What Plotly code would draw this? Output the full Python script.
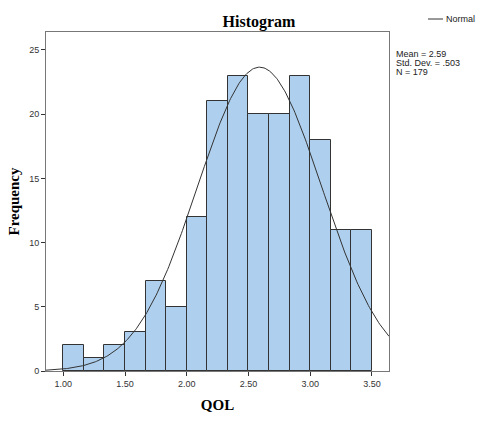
import numpy as np
import plotly.graph_objects as go

# Data
bin_starts = [1.0 + i / 6 for i in range(15)]
counts = [2, 1, 2, 3, 7, 5, 12, 21, 23, 20, 20, 23, 18, 11, 11]
mean, sd, n = 2.59, 0.503, 179
bin_width = 1 / 6
x_ticks = [1.0, 1.5, 2.0, 2.5, 3.0, 3.5]
x_tick_labels = ["1.00", "1.50", "2.00", "2.50", "3.00", "3.50"]
y_ticks = [0, 5, 10, 15, 20, 25]
stats_lines = ["Mean = 2.59", "Std. Dev. = .503", "N = 179"]

centers = [s + bin_width / 2 for s in bin_starts]
xs = np.linspace(0.86, 3.638, 300)
ys = n * bin_width / (sd * np.sqrt(2 * np.pi)) * np.exp(-0.5 * ((xs - mean) / sd) ** 2)

L, R, T, B = 46, 389, 32, 371
W, H = 482, 423
pw, ph = R - L, B - T

def px(x):
    return (x - L) / pw

def py(y):
    return (B - y) / ph

fig = go.Figure()
fig.add_trace(go.Bar(x=centers, y=counts, width=bin_width,
                     marker=dict(color="#AED0EE", line=dict(color="#333333", width=1)),
                     showlegend=False))
fig.add_trace(go.Scatter(x=xs, y=ys, mode="lines", name="Normal",
                         line=dict(color="#333333", width=1), showlegend=False))

annotations = [dict(text=t, xref="paper", yref="paper", x=px(394), y=py(54 + 9 * i),
                    xanchor="left", yanchor="middle", align="left", showarrow=False,
                    font=dict(family="Liberation Sans, Arial", size=9, color="#222"))
               for i, t in enumerate(stats_lines)]
annotations.append(dict(text="Normal", xref="paper", yref="paper", x=px(444), y=py(19),
                        xanchor="left", yanchor="middle", showarrow=False,
                        font=dict(family="Liberation Sans, Arial", size=9, color="#222")))

fig.update_layout(
    width=W, height=H,
    margin=dict(l=L, r=W - R, t=T, b=H - B, autoexpand=False),
    paper_bgcolor="white", plot_bgcolor="white",
    bargap=0,
    showlegend=False,
    title=dict(text="<b>Histogram</b>", x=259 / W, xanchor="center", y=1 - 21 / H, yanchor="middle",
               font=dict(family="Liberation Serif, serif", size=16, color="black")),
    shapes=[dict(type="line", xref="paper", yref="paper", x0=px(428), x1=px(443), y0=py(19), y1=py(19),
                 line=dict(color="#333333", width=1))],
    xaxis=dict(range=[0.86, 3.638], tickvals=x_ticks, ticktext=x_tick_labels,
               showgrid=False, zeroline=False, ticks="outside", ticklen=4, tickcolor="#333",
               showline=True, linecolor="#777", linewidth=1, mirror=True, automargin=False,
               tickfont=dict(family="Liberation Sans, Arial", size=9, color="#333"),
               title=dict(text="<b>QOL</b>", font=dict(family="Liberation Serif, serif", size=15, color="black"),
                          standoff=11)),
    yaxis=dict(range=[0, 26.4], tickvals=y_ticks, showgrid=False, zeroline=False,
               ticks="outside", ticklen=4, tickcolor="#333",
               showline=True, linecolor="#777", linewidth=1, mirror=True, automargin=False,
               tickfont=dict(family="Liberation Sans, Arial", size=9, color="#333"),
               title=dict(text="<b>Frequency</b>", font=dict(family="Liberation Serif, serif", size=15, color="black"),
                          standoff=5)),
    annotations=annotations,
)
fig.write_html("out.html", config={"displayModeBar": False},
               post_script="document.body.style.margin='0';")
